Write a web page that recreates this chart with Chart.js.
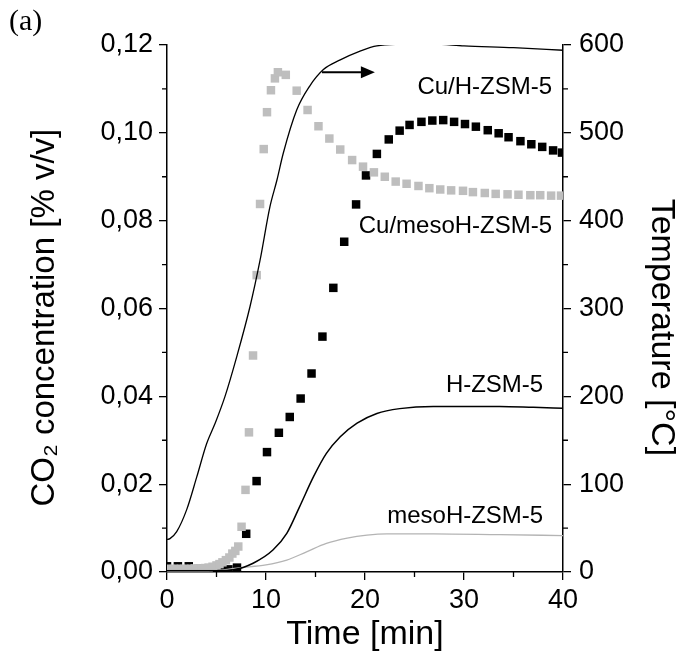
<!DOCTYPE html>
<html>
<head>
<meta charset="utf-8">
<script src="https://cdn.jsdelivr.net/npm/chart.js@4.4.1/dist/chart.umd.min.js"></script>
<style>
  html, body { margin: 0; padding: 0; background: #fff; }
  canvas { display: block; }
</style>
</head>
<body>
<canvas id="myChart" width="682" height="655"></canvas>
<script>
// Cu/H-ZSM-5 (black squares), CO2 % v/v
const cuHTime = [0, 1.1, 2.2, 3.3, 4.4, 5.5, 6.2, 7.07, 8.0, 9.05, 10.1, 11.3, 12.4, 13.5, 14.6, 15.7, 16.8, 17.9, 19.1,
  20.1, 21.2, 22.4, 23.5, 24.5, 25.7, 26.8, 27.9, 29.0, 30.1, 31.2, 32.4, 33.5, 34.5, 35.7, 36.8, 37.9, 39.0, 39.9];
const cuHCo2 = [0.0013, 0.0013, 0.0013, 0.0007, 0.0006, 0.0006, 0.0006, 0.001, 0.0087, 0.0207, 0.0273, 0.0317, 0.0353, 0.0395, 0.0452, 0.0536, 0.0647, 0.0752, 0.0837,
  0.0903, 0.0952, 0.0985, 0.1005, 0.1018, 0.1025, 0.1028, 0.1029, 0.1025, 0.102, 0.1014, 0.1006, 0.0999, 0.099, 0.0981, 0.0974, 0.0968, 0.096, 0.0955];

// Cu/mesoH-ZSM-5 (grey squares)
const cuMesoTime = [0, 0.35, 0.7, 1.05, 1.4, 1.75, 2.1, 2.45, 2.8, 3.15, 3.5, 3.85, 4.2, 4.6, 5.0, 5.3, 5.6, 5.95, 6.3, 6.6, 6.9,
  7.2, 7.53, 7.93, 8.28, 8.69, 9.06, 9.4, 9.77, 10.1, 10.5, 10.9, 11.2, 12.0, 13.1, 14.2, 15.3, 16.4, 17.5, 18.7, 19.8,
  20.9, 22.0, 23.1, 24.2, 25.4, 26.5, 27.6, 28.7, 29.9, 30.9, 32.1, 33.2, 34.4, 35.5, 36.7, 37.7, 38.8, 39.8];
const cuMesoCo2 = [0.0007, 0.0007, 0.0007, 0.0007, 0.0007, 0.0007, 0.0007, 0.0007, 0.0008, 0.0008, 0.0008, 0.0009, 0.001, 0.0012, 0.0015, 0.0018, 0.0022, 0.0027, 0.0033, 0.0042, 0.0048,
  0.0058, 0.0103, 0.0187, 0.0318, 0.0493, 0.0676, 0.0838, 0.0963, 0.1047, 0.1097, 0.1124, 0.1138, 0.1132, 0.1096, 0.1052, 0.1015, 0.0987, 0.0962, 0.0938, 0.0923,
  0.091, 0.09, 0.0889, 0.0884, 0.0879, 0.0874, 0.0871, 0.0869, 0.0868, 0.0865, 0.0863, 0.0861, 0.086, 0.0859, 0.0858, 0.0858, 0.0857, 0.0857];

// H-ZSM-5 (black line)
const hTime = [0, 5, 6.7, 8.7, 10.7, 12.1, 13.4, 14.8, 16.1, 17.5, 19.2, 21.2, 23.5, 26.9, 30.3, 33.6, 37, 40];
const hCo2 = [0.0003, 0.0003, 0.0005, 0.002, 0.005, 0.0088, 0.0149, 0.0217, 0.027, 0.0308, 0.0339, 0.0361, 0.0372, 0.0377, 0.0377, 0.0377, 0.0375, 0.0373];

// mesoH-ZSM-5 (grey line)
const mesoTime = [0, 5, 7.4, 10, 12.1, 14.1, 16.1, 18.2, 20.2, 22.2, 26.9, 33.6, 40];
const mesoCo2 = [0.0004, 0.0004, 0.001, 0.0016, 0.0027, 0.0046, 0.0065, 0.0077, 0.0084, 0.0087, 0.0087, 0.0085, 0.0083];

// temperature, right axis
const tempTime = [0, 0.3, 0.98, 1.99, 3.0, 4.0, 4.85, 5.86, 7.04, 8.38, 9.4, 10.4, 11.1, 11.75, 13.1, 14.4, 15.8, 17.5, 19.5, 21.2, 24.5, 27, 30, 35, 40];
const tempValues = [37, 38, 46, 71, 108, 146, 169, 200, 245, 302, 355, 416, 446, 477, 526, 553, 572, 583, 593, 599, 601, 601, 599, 597, 594];

const xMinor = [5, 15, 25, 35];
const co2Minor = [0.01, 0.03, 0.05, 0.07, 0.09, 0.11];
const tempMinor = [50, 150, 250, 350, 450, 550];

// text next to the curves: [text, time, value, axis, align]
const curveLabels = [
  ["Cu/H-ZSM-5", 38.9, 0.1104, "y", "right"],
  ["Cu/mesoH-ZSM-5", 38.9, 0.0788, "y", "right"],
  ["H-ZSM-5", 38.0, 0.0426, "y", "right"],
  ["mesoH-ZSM-5", 38.0, 0.01275, "y", "right"],
];
const arrowFrom = [15.65, 569];
const arrowTo = [21.0, 569];

const FONT = "'Liberation Sans', Arial, sans-serif";
const NB = "\u00a0";

function toPoints(xs, ys) {
  let pts = [];
  for (let i = 0; i < xs.length; i++) {
    pts.push({ x: xs[i], y: ys[i] });
  }
  return pts;
}

const extras = {
  id: "extras",
  afterDraw(chart) {
    const ctx = chart.ctx;
    const area = chart.chartArea;
    const sx = chart.scales.x;
    const sy = chart.scales.y;
    const sy2 = chart.scales.y2;

    ctx.save();
    ctx.strokeStyle = "#000";
    ctx.lineWidth = 1.3;
    ctx.beginPath();
    xMinor.forEach((v) => {
      let p = sx.getPixelForValue(v);
      ctx.moveTo(p, area.bottom);
      ctx.lineTo(p, area.bottom + 5);
    });
    co2Minor.forEach((v) => {
      let p = sy.getPixelForValue(v);
      ctx.moveTo(area.left - 5, p);
      ctx.lineTo(area.left, p);
    });
    tempMinor.forEach((v) => {
      let p = sy2.getPixelForValue(v);
      ctx.moveTo(area.right, p);
      ctx.lineTo(area.right + 5, p);
    });
    ctx.stroke();

    // arrow pointing at the temperature axis
    let ax1 = sx.getPixelForValue(arrowFrom[0]);
    let ax2 = sx.getPixelForValue(arrowTo[0]);
    let ay = sy2.getPixelForValue(arrowFrom[1]);
    ctx.lineWidth = 2;
    ctx.beginPath();
    ctx.moveTo(ax1, ay);
    ctx.lineTo(ax2 - 12, ay);
    ctx.stroke();
    ctx.fillStyle = "#000";
    ctx.beginPath();
    ctx.moveTo(ax2, ay);
    ctx.lineTo(ax2 - 14, ay - 6);
    ctx.lineTo(ax2 - 14, ay + 6);
    ctx.closePath();
    ctx.fill();

    ctx.font = "24px " + FONT;
    ctx.textBaseline = "middle";
    curveLabels.forEach((l) => {
      ctx.textAlign = l[4];
      ctx.fillText(l[0], sx.getPixelForValue(l[1]), chart.scales[l[3]].getPixelForValue(l[2]));
    });

    ctx.textAlign = "left";
    ctx.font = "30px 'Liberation Serif', 'Times New Roman', serif";
    ctx.fillText("(a)", 9, 22);
    ctx.restore();
  },
};

const tickFont = { family: FONT, size: 27 };

const config = {
  type: "scatter",
  data: {
    datasets: [
      {
        label: "Temperature",
        data: toPoints(tempTime, tempValues),
        yAxisID: "y2",
        showLine: true,
        pointRadius: 0,
        borderColor: "#000",
        borderWidth: 1.3,
        cubicInterpolationMode: "monotone",
        order: 0,
      },
      {
        label: "Cu/mesoH-ZSM-5",
        data: toPoints(cuMesoTime, cuMesoCo2),
        yAxisID: "y",
        pointStyle: "rect",
        pointRadius: 6,
        pointBorderWidth: 0,
        backgroundColor: "#bebebe",
        order: 1,
      },
      {
        label: "Cu/H-ZSM-5",
        data: toPoints(cuHTime, cuHCo2),
        yAxisID: "y",
        pointStyle: "rect",
        pointRadius: 6,
        pointBorderWidth: 0,
        backgroundColor: "#000",
        order: 2,
      },
      {
        label: "H-ZSM-5",
        data: toPoints(hTime, hCo2),
        yAxisID: "y",
        showLine: true,
        pointRadius: 0,
        borderColor: "#000",
        borderWidth: 1.5,
        cubicInterpolationMode: "monotone",
        order: 0,
      },
      {
        label: "mesoH-ZSM-5",
        data: toPoints(mesoTime, mesoCo2),
        yAxisID: "y",
        showLine: true,
        pointRadius: 0,
        borderColor: "#b4b4b4",
        borderWidth: 1.3,
        cubicInterpolationMode: "monotone",
        order: 0,
      },
    ],
  },
  options: {
    responsive: false,
    animation: false,
    layout: { padding: { top: 45, left: 0, right: 0, bottom: 0 } },
    plugins: {
      legend: { display: false },
      tooltip: { enabled: false },
    },
    scales: {
      x: {
        type: "linear",
        position: "bottom",
        min: 0,
        max: 40,
        ticks: { stepSize: 10, color: "#000", font: tickFont, padding: 4 },
        grid: { drawOnChartArea: false, drawTicks: true, tickLength: 8, color: "#000", lineWidth: 1.3 },
        border: { color: "#000", width: 1.5 },
        title: { display: true, text: "Time [min]", color: "#000", font: { family: FONT, size: 34 }, padding: { top: 0, bottom: 0 } },
        afterFit: (s) => { s.height = 83; },
      },
      y: {
        position: "left",
        min: 0,
        max: 0.12,
        ticks: {
          stepSize: 0.02,
          color: "#000",
          font: tickFont,
          padding: 6,
          callback: (v) => v.toFixed(2).replace(".", ","),
        },
        grid: { drawOnChartArea: false, drawTicks: true, tickLength: 8, color: "#000", lineWidth: 1.3 },
        border: { color: "#000", width: 1.5 },
        title: {
          display: true,
          text: "CO\u2082 concentration [% v/v]" + NB + NB,
          color: "#000",
          font: { family: FONT, size: 33, lineHeight: 1 },
          padding: { top: 28, bottom: 0 },
        },
        afterFit: (s) => { s.width = 167; },
      },
      y2: {
        position: "right",
        min: 0,
        max: 600,
        ticks: { stepSize: 100, color: "#000", font: tickFont, padding: 8 },
        grid: { drawOnChartArea: false, drawTicks: true, tickLength: 8, color: "#000", lineWidth: 1.3 },
        border: { color: "#000", width: 1.5 },
        title: {
          display: true,
          text: NB + NB + NB + NB + "Temperature [\u00b0C]",
          color: "#000",
          font: { family: FONT, size: 34, lineHeight: 1 },
          padding: { top: 4, bottom: 0 },
        },
        afterFit: (s) => { s.width = 119; },
      },
    },
  },
  plugins: [extras],
};

const myChart = new Chart(document.getElementById("myChart"), config);
</script>
</body>
</html>
